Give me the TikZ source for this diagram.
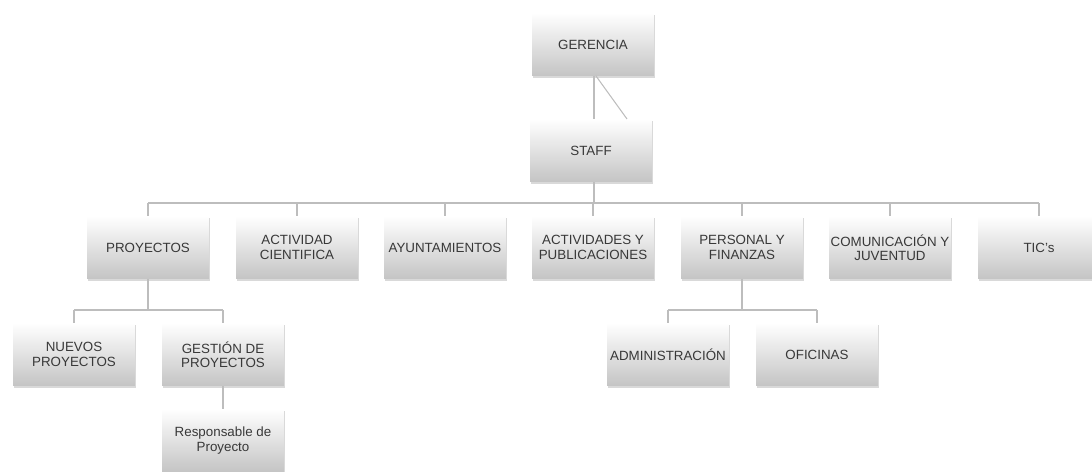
\documentclass[tikz,border=0pt]{standalone}
\usepackage{fontspec}
\setmainfont{Liberation Sans}
\usetikzlibrary{shadows}
\definecolor{txt}{HTML}{383838}
\definecolor{ln}{HTML}{BDBDBD}
\definecolor{boxbot}{HTML}{C4C4C4}
\tikzset{
  orgbox/.style={rectangle, minimum width=2.44cm, minimum height=1.26cm, inner sep=0.5pt,
    top color=white, bottom color=boxbot, draw=none, align=center, text=txt,
    font=\fontsize{7.6}{8.2}\selectfont,
    drop shadow={opacity=0.3, shadow xshift=0.8pt, shadow yshift=-1pt}},
  conn/.style={draw=ln, line width=0.6pt}
}
\begin{document}
\begin{tikzpicture}[x=0.02cm, y=-0.02cm]
\useasboundingbox (0,0) rectangle (1092,472);
\node[orgbox] (ger) at (593,44.5) {GERENCIA};
\node[orgbox] (staff) at (591,150.5) {STAFF};
\node[orgbox] (proy) at (148,247.5) {PROYECTOS};
\node[orgbox] (act) at (297,247.5) {ACTIVIDAD\\CIENTIFICA};
\node[orgbox] (ayu) at (445,247.5) {AYUNTAMIENTOS};
\node[orgbox] (pub) at (593,247.5) {ACTIVIDADES Y\\PUBLICACIONES};
\node[orgbox] (pers) at (742,247.5) {PERSONAL Y\\FINANZAS};
\node[orgbox] (com) at (890,247.5) {COMUNICACIÓN Y\\JUVENTUD};
\node[orgbox] (tic) at (1039,247.5) {TIC's};
\node[orgbox] (nue) at (74,354.5) {NUEVOS\\PROYECTOS};
\node[orgbox] (ges) at (223,354.5) {GESTIÓN DE\\PROYECTOS};
\node[orgbox] (resp) at (223,440.5) {Responsable de\\Proyecto};
\node[orgbox] (adm) at (668,354.5) {ADMINISTRACIÓN};
\node[orgbox] (ofi) at (817,354.5) {OFICINAS};
\coordinate (bus) at (594,203);
\coordinate (bus2) at (0,310);
\coordinate (dtop) at (596,76);
\coordinate (dbot) at (627,119);
% gerencia - staff
\draw[conn] (ger.south -| 594,0) -- (staff.north -| 594,0);
\draw[conn] (dtop) -- (dbot);
% staff bus
\draw[conn] (staff.south -| bus) -- (bus);
\draw[conn] (proy.north |- bus) -- (tic.north |- bus);
\foreach \n in {proy,act,ayu,pub,pers,com,tic}
  \draw[conn] (\n.north) -- (\n.north |- bus);
% proyectos
\draw[conn] (proy.south) -- (proy.south |- bus2);
\draw[conn] (nue.north |- bus2) -- (ges.north |- bus2);
\draw[conn] (nue.north) -- (nue.north |- bus2);
\draw[conn] (ges.north) -- (ges.north |- bus2);
\draw[conn] (ges.south) -- (resp.north);
% personal
\draw[conn] (pers.south) -- (pers.south |- bus2);
\draw[conn] (adm.north |- bus2) -- (ofi.north |- bus2);
\draw[conn] (adm.north) -- (adm.north |- bus2);
\draw[conn] (ofi.north) -- (ofi.north |- bus2);
\end{tikzpicture}
\end{document}
